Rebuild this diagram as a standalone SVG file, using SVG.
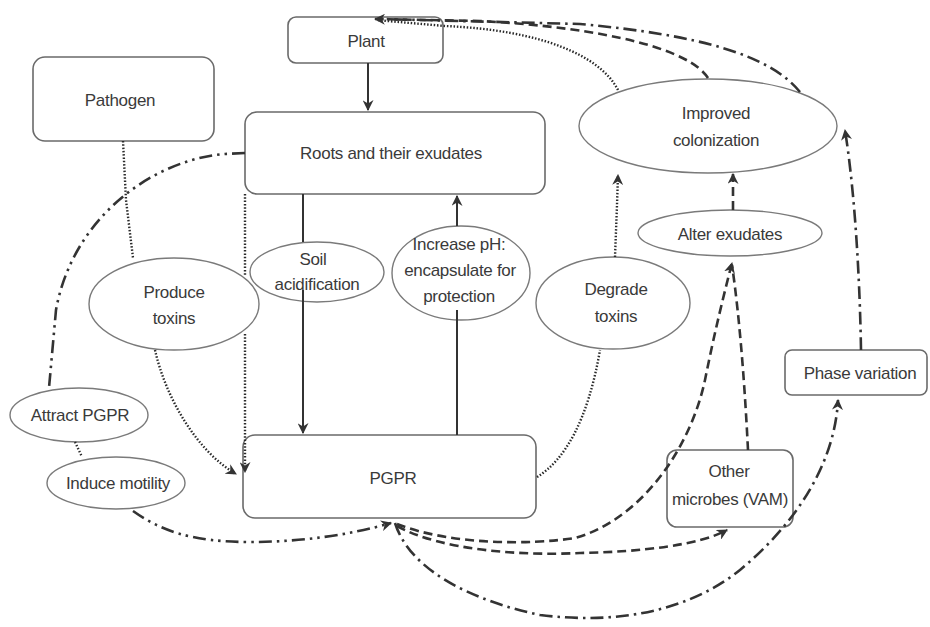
<svg xmlns="http://www.w3.org/2000/svg" width="930" height="627" viewBox="0 0 930 627">
<defs>
<style>
.box{fill:#fff;stroke:#6a6a6a;stroke-width:1.6}
.ell{fill:#fff;stroke:#7a7a7a;stroke-width:1.4}
.t{font-family:"Liberation Sans",Arial,sans-serif;font-size:17px;fill:#3a3a3a;text-anchor:middle;letter-spacing:-0.3px}
.c{fill:none;stroke:#333}
.solid{stroke-width:2}
.dot{stroke-width:2.4;stroke-dasharray:1.5 1.8;stroke:#2a2a2a}
.dash{stroke-width:2.6;stroke-dasharray:9 5}
.dd{stroke-width:2.6;stroke-dasharray:13 5 2.5 5}
.ddd{stroke-width:2.6;stroke-dasharray:13 5 2.5 5 2.5 5}
</style>
<marker id="ar" viewBox="0 0 10 10" refX="9" refY="5" markerWidth="11" markerHeight="11" markerUnits="userSpaceOnUse" orient="auto">
<path d="M0,0 L10,5 L0,10 L3,5 z" fill="#333"/>
</marker>
</defs>
<rect width="930" height="627" fill="#fff"/>

<g id="nodes">
<g id="plant"><rect class="box" x="288" y="17" width="155" height="46" rx="8"/><text class="t" x="366" y="47">Plant</text></g>
<g id="pathogen"><rect class="box" x="33" y="57" width="181" height="84" rx="12"/><text class="t" x="120" y="106">Pathogen</text></g>
<g id="roots"><rect class="box" x="245" y="112" width="300" height="82" rx="12"/><text class="t" x="391" y="159">Roots and their exudates</text></g>
<g id="pgpr"><rect class="box" x="243" y="435" width="293" height="83" rx="12"/><text class="t" x="393" y="484">PGPR</text></g>
<g id="improved"><ellipse class="ell" cx="708" cy="126" rx="129" ry="47"/><text class="t" x="716" y="119">Improved</text><text class="t" x="716" y="146">colonization</text></g>
<g id="alter"><ellipse class="ell" cx="730" cy="233" rx="92" ry="23"/><text class="t" x="730" y="240">Alter exudates</text></g>
<g id="degrade"><ellipse class="ell" cx="613" cy="303" rx="77" ry="46"/><text class="t" x="616" y="295">Degrade</text><text class="t" x="616" y="322">toxins</text></g>
<g id="increase"><ellipse class="ell" cx="461" cy="273" rx="69" ry="47"/><text class="t" x="459" y="250">Increase pH:</text><text class="t" x="460" y="276">encapsulate for</text><text class="t" x="459" y="302">protection</text></g>
<g id="soil"><ellipse class="ell" cx="317" cy="272" rx="67" ry="30"/><text class="t" x="313" y="265">Soil</text><text class="t" x="317" y="290">acidification</text></g>
<g id="produce"><ellipse class="ell" cx="174" cy="304" rx="85" ry="46"/><text class="t" x="174" y="298">Produce</text><text class="t" x="174" y="324">toxins</text></g>
<g id="attract"><ellipse class="ell" cx="79" cy="415" rx="69" ry="27"/><text class="t" x="80" y="421">Attract PGPR</text></g>
<g id="induce"><ellipse class="ell" cx="116" cy="483" rx="69" ry="26"/><text class="t" x="118" y="489">Induce motility</text></g>
<g id="phase"><rect class="box" x="785" y="350" width="142" height="45" rx="7"/><text class="t" x="860" y="379">Phase variation</text></g>
<g id="microbes"><rect class="box" x="667" y="450" width="126" height="77" rx="10"/><text class="t" x="729" y="477">Other</text><text class="t" x="730" y="505" textLength="116" lengthAdjust="spacingAndGlyphs">microbes (VAM)</text></g>
</g>

<g id="connectors">
<path class="c solid" d="M368,63 V110" marker-end="url(#ar)"/>
<path class="c solid" d="M303,194 V242 M303,290 V433" marker-end="url(#ar)"/>
<path class="c solid" d="M457,435 V310 M457,226 V196" marker-end="url(#ar)"/>

<path class="c dot" d="M123,141 L126,200 L133,258"/>
<path class="c dot" d="M155,350 C165,395 195,450 236,474" marker-end="url(#ar)"/>
<path class="c dot" d="M245,194 V276 M245,334 V472" marker-end="url(#ar)"/>
<path class="c dot" d="M537,477 C565,460 588,420 600,350"/>
<path class="c dot" d="M615,257 L617,205 L618,175" marker-end="url(#ar)"/>
<path class="c dot" d="M75,442 L82,457"/>

<path class="c ddd" d="M245,153 L225,154 C150,160 72,220 56,310 L49,388"/>
<path class="c ddd" d="M133,511 C160,530 190,542 250,542 C300,542 350,535 391,523" marker-end="url(#ar)"/>

<path class="c dd" d="M395,523 C410,570 470,600 540,615 C620,625 690,610 740,570 C800,520 835,460 838,400" marker-end="url(#ar)"/>
<path class="c dd" d="M861,350 C860,290 856,200 845,130" marker-end="url(#ar)"/>

<path class="c dash" d="M397,524 C450,545 530,545 575,538 C640,520 690,450 705,380 C715,330 725,290 732,263" marker-end="url(#ar)"/>
<path class="c dash" d="M397,526 C440,550 520,556 580,553 C640,552 700,545 727,530" marker-end="url(#ar)"/>
<path class="c dash" d="M748,450 C745,390 740,320 732,265"/>
<path class="c dash" d="M733,210 V174" marker-end="url(#ar)"/>

<path class="c dot" d="M618,90 C600,55 540,30 445,26 L376,20"/>
<path class="c dash" d="M708,78 C690,50 610,28 480,21 L375,19" marker-end="url(#ar)"/>
<path class="c dd" d="M800,92 C770,55 700,35 580,24 L380,19"/>
</g>
</svg>
